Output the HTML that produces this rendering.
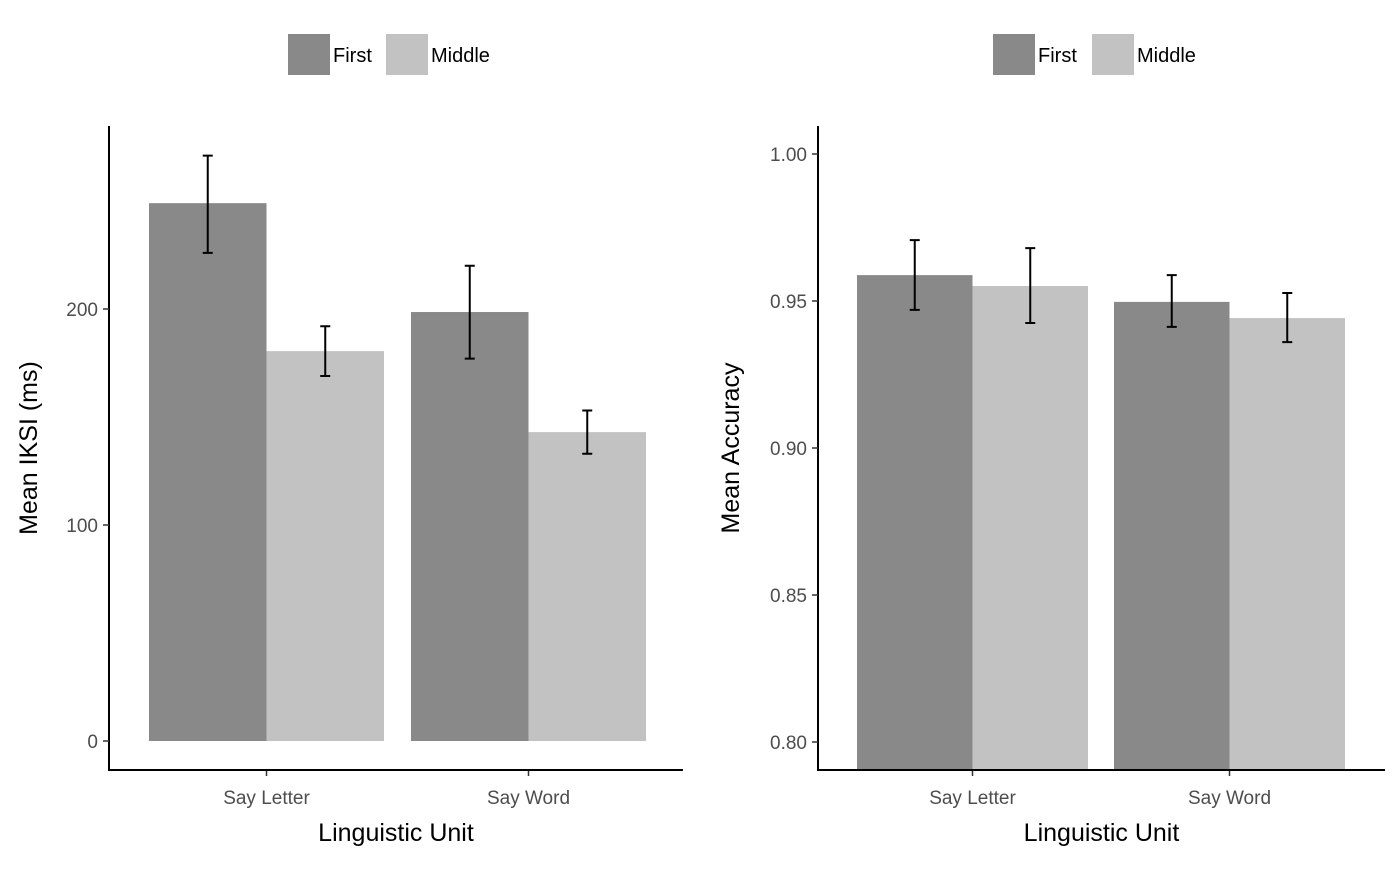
<!DOCTYPE html>
<html><head><meta charset="utf-8"><style>
html,body{margin:0;padding:0;background:#fff;}
svg text{font-family:"Liberation Sans",Arial,sans-serif;}
</style></head><body>
<svg id="c" width="1400" height="865"></svg>
<script>
const categories = ["Say Letter", "Say Word"];
const groups = ["First", "Middle"];
const iksiMeans = [[249, 180.5], [198.6, 143]];
const iksiLow = [[226, 169], [177, 133]];
const iksiHigh = [[271, 192], [220, 153]];
const iksiTicks = [0, 100, 200];
const accMeans = [[0.9588, 0.9551], [0.9497, 0.9442]];
const accLow = [[0.947, 0.9425], [0.9412, 0.936]];
const accHigh = [[0.9707, 0.968], [0.9588, 0.9527]];
const accTicks = ["0.80", "0.85", "0.90", "0.95", "1.00"];
const colors = ["#898989", "#c2c2c2"];
const NS = "http://www.w3.org/2000/svg";
const svg = document.getElementById("c");
function mk(tag, attrs, parent, text){
  const e = document.createElementNS(NS, tag);
  for (const k in attrs) e.setAttribute(k, attrs[k]);
  if (text !== undefined) e.textContent = text;
  (parent || svg).appendChild(e);
  return e;
}
function panel(cfg){
  const g = mk("g", {});
  
  
  const y = v => cfg.y0px - (v - cfg.v0) * cfg.scale;
  // bars
  categories.forEach((cat, ci) => {
    groups.forEach((gr, gi) => {
      const x = cfg.catStart[ci] + gi * cfg.bw;
      const top = y(cfg.means[ci][gi]);
      const r = mk("rect", {x: x, y: top, width: cfg.bw, height: cfg.barBottom - top, fill: colors[gi]}, g);
      
      
      const cx = x + cfg.bw / 2, yl = y(cfg.low[ci][gi]), yh = y(cfg.high[ci][gi]);
      const eb = mk("path", {d: `M${cx-5},${yh}H${cx+5}M${cx},${yh}V${yl}M${cx-5},${yl}H${cx+5}`, stroke: "#000", "stroke-width": 2, fill: "none"}, g);
      
      
    });
    const lab = mk("text", {x: cfg.catStart[ci] + cfg.bw, y: 804, "text-anchor": "middle", "font-size": 19, fill: "#4d4d4d"}, g, cat);
    
    
    const tk = mk("line", {x1: cfg.catStart[ci] + cfg.bw, x2: cfg.catStart[ci] + cfg.bw, y1: 770, y2: 776, stroke: "#333", "stroke-width": 1.5}, g);
    
    
  });
  // axes
  const ax = mk("path", {d: `M${cfg.ax},126V770H${cfg.axEnd}`, stroke: "#000", "stroke-width": 2, fill: "none"}, g);
  
  
  cfg.ticks.forEach(t => {
    const ty = y(parseFloat(t));
    const tl = mk("line", {x1: cfg.ax - 6, x2: cfg.ax, y1: ty, y2: ty, stroke: "#333", "stroke-width": 1.5}, g);
    
    
    const tt = mk("text", {x: cfg.ax - 11, y: ty + 7, "text-anchor": "end", "font-size": 19, fill: "#4d4d4d"}, g, t);
    
    
  });
  const xt = mk("text", {x: (cfg.ax + cfg.axEnd) / 2, y: 841, "text-anchor": "middle", "font-size": 25, fill: "#000"}, g, "Linguistic Unit");
  
  
  const yt = mk("text", {x: 0, y: 0, "text-anchor": "middle", "font-size": 25, fill: "#000", transform: `translate(${cfg.ytx},448) rotate(-90)`}, g, cfg.ytitle);
  
  
  // legend
  groups.forEach((gr, gi) => {
    const lx = cfg.legX[gi];
    const k = mk("rect", {x: lx, y: 34, width: 42, height: 41, fill: colors[gi]}, g);
    
    
    const lt = mk("text", {x: lx + 45, y: 62, "font-size": 20, fill: "#000"}, g, gr);
    
    
  });
}
panel({name: "iksi-panel", means: iksiMeans, low: iksiLow, high: iksiHigh, ticks: iksiTicks.map(String),
  v0: 0, y0px: 741, scale: 2.16, barBottom: 741, catStart: [149, 411], bw: 117.5,
  ax: 109, axEnd: 683, ytx: 37, ytitle: "Mean IKSI (ms)", legX: [288, 386]});
panel({name: "accuracy-panel", means: accMeans, low: accLow, high: accHigh, ticks: accTicks,
  v0: 0.80, y0px: 742, scale: 2940, barBottom: 770, catStart: [857, 1114], bw: 115.5,
  ax: 818, axEnd: 1385, ytx: 739, ytitle: "Mean Accuracy", legX: [993, 1092]});
</script>
</body></html>
